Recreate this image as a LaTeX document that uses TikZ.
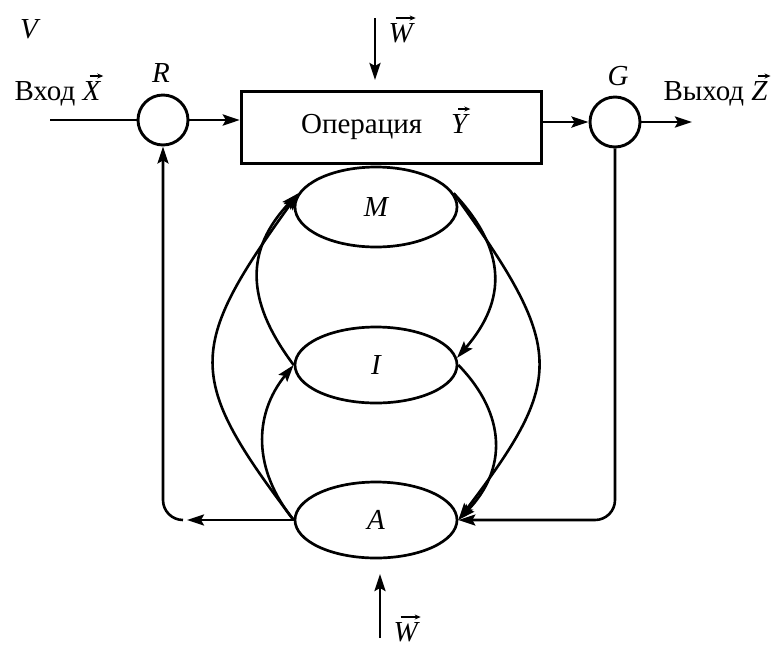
\documentclass[tikz,border=0pt]{standalone}
\usepackage{fontspec}
\setmainfont{Liberation Serif}
\usetikzlibrary{arrows.meta,shapes.geometric,calc}
\newcommand\vv[1]{\tikz[baseline=(v.base),x=1pt,y=1pt]{%
  \node[inner sep=0pt,outer sep=0pt] (v) {\itshape #1};
  \draw[line width=1.1pt,-{Stealth[length=6pt,width=5pt]}]
    ([xshift=7pt,yshift=5pt]v.north west) -- ([xshift=3pt,yshift=5pt]v.north east);}}
\begin{document}
\begin{tikzpicture}[x=1pt,y=-1pt,
  every node/.style={font=\fontsize{29}{34}\selectfont},
  arr/.style={-{Stealth[length=17pt,width=11pt,inset=3pt]}},
  ln/.style={line width=2.9pt},
  cv/.style={line width=2.6pt},
  ell/.style={ellipse,draw,line width=2.7pt,minimum width=162pt,minimum height=78pt,inner sep=0pt},
  circ/.style={circle,draw,line width=2.9pt,minimum size=50pt,inner sep=0pt}]
\useasboundingbox (0,0) rectangle (771,649);

% labels
\node[anchor=base] (V) at (29,38) {\itshape V};
\node[anchor=base west] (inl) at (11,100) {Вход \vv{X}};
\node[anchor=base] (Rl) at (161,82) {\itshape R};
\node[anchor=base] (Gl) at (618,85) {\itshape G};
\node[anchor=base west] (outl) at (660,100) {Выход \vv{Z}};
\node[anchor=base west] (w1) at (385,42) {\vv{W}};
\node[anchor=base west] (w2) at (390,641) {\vv{W}};

% main chain
\node[circ] (R) at (163,120) {};
\node[circ] (G) at (615,122) {};
\node[draw,line width=3.3pt,minimum width=300pt,minimum height=72pt,inner sep=0pt] (op) at (391.5,127.5) {};
\node[anchor=base] (optxt) at (386,133) {Операция\quad\vv{Y}};

\coordinate (xin) at (50,120);
\coordinate (zout) at (692,122);
\coordinate (wt) at (375,18);
\coordinate (wb) at (375,80);
\coordinate (wbt) at (380,638);
\coordinate (wbb) at (380,574);

\draw[ln] (xin) -- (R.west);
\draw[ln,arr] (R.east) -- (R.east -| op.west);
\draw[ln,arr] (op.east |- G.west) -- (G.west);
\draw[ln,arr] (G.east) -- (zout);
\draw[ln,arr] (wt) -- (wb);
\draw[ln,arr] (wbt) -- (wbb);

% ellipses
\node[ell,minimum height=80pt] (M) at (376,207) {\itshape M};
\node[ell,minimum height=76pt] (I) at (376,365) {\itshape I};
\node[ell,minimum height=76pt] (A) at (376,520) {\itshape A};

% left side (upwards)
\draw[cv,arr] (A.west) .. controls (186,378) and (186,349) .. (M.170);
\draw[cv,arr] (I.west) .. controls (245,300) and (245,250) .. (M.170);
\draw[cv,arr] (A.west) .. controls (253,470) and (253,415) .. (I.west);
% right side (downwards)
\draw[cv,arr] (M.10) .. controls (507,250) and (507,300) .. (I.5);
\draw[cv,arr] (M.10) .. controls (566,349) and (566,378) .. (A.east);
\draw[cv,arr] (I.east) .. controls (507,415) and (507,470) .. (A.east);

% feedback
\coordinate (bl) at (187,521);
\draw[cv,arr,rounded corners=20pt] (G.south) |- (A.east);
\draw[cv,arr] (A.west) -- (A.west -| bl);
\draw[cv,arr,rounded corners=20pt] ($(A.west -| bl)+(-4,0)$) -| (R.south);
\end{tikzpicture}
\end{document}
